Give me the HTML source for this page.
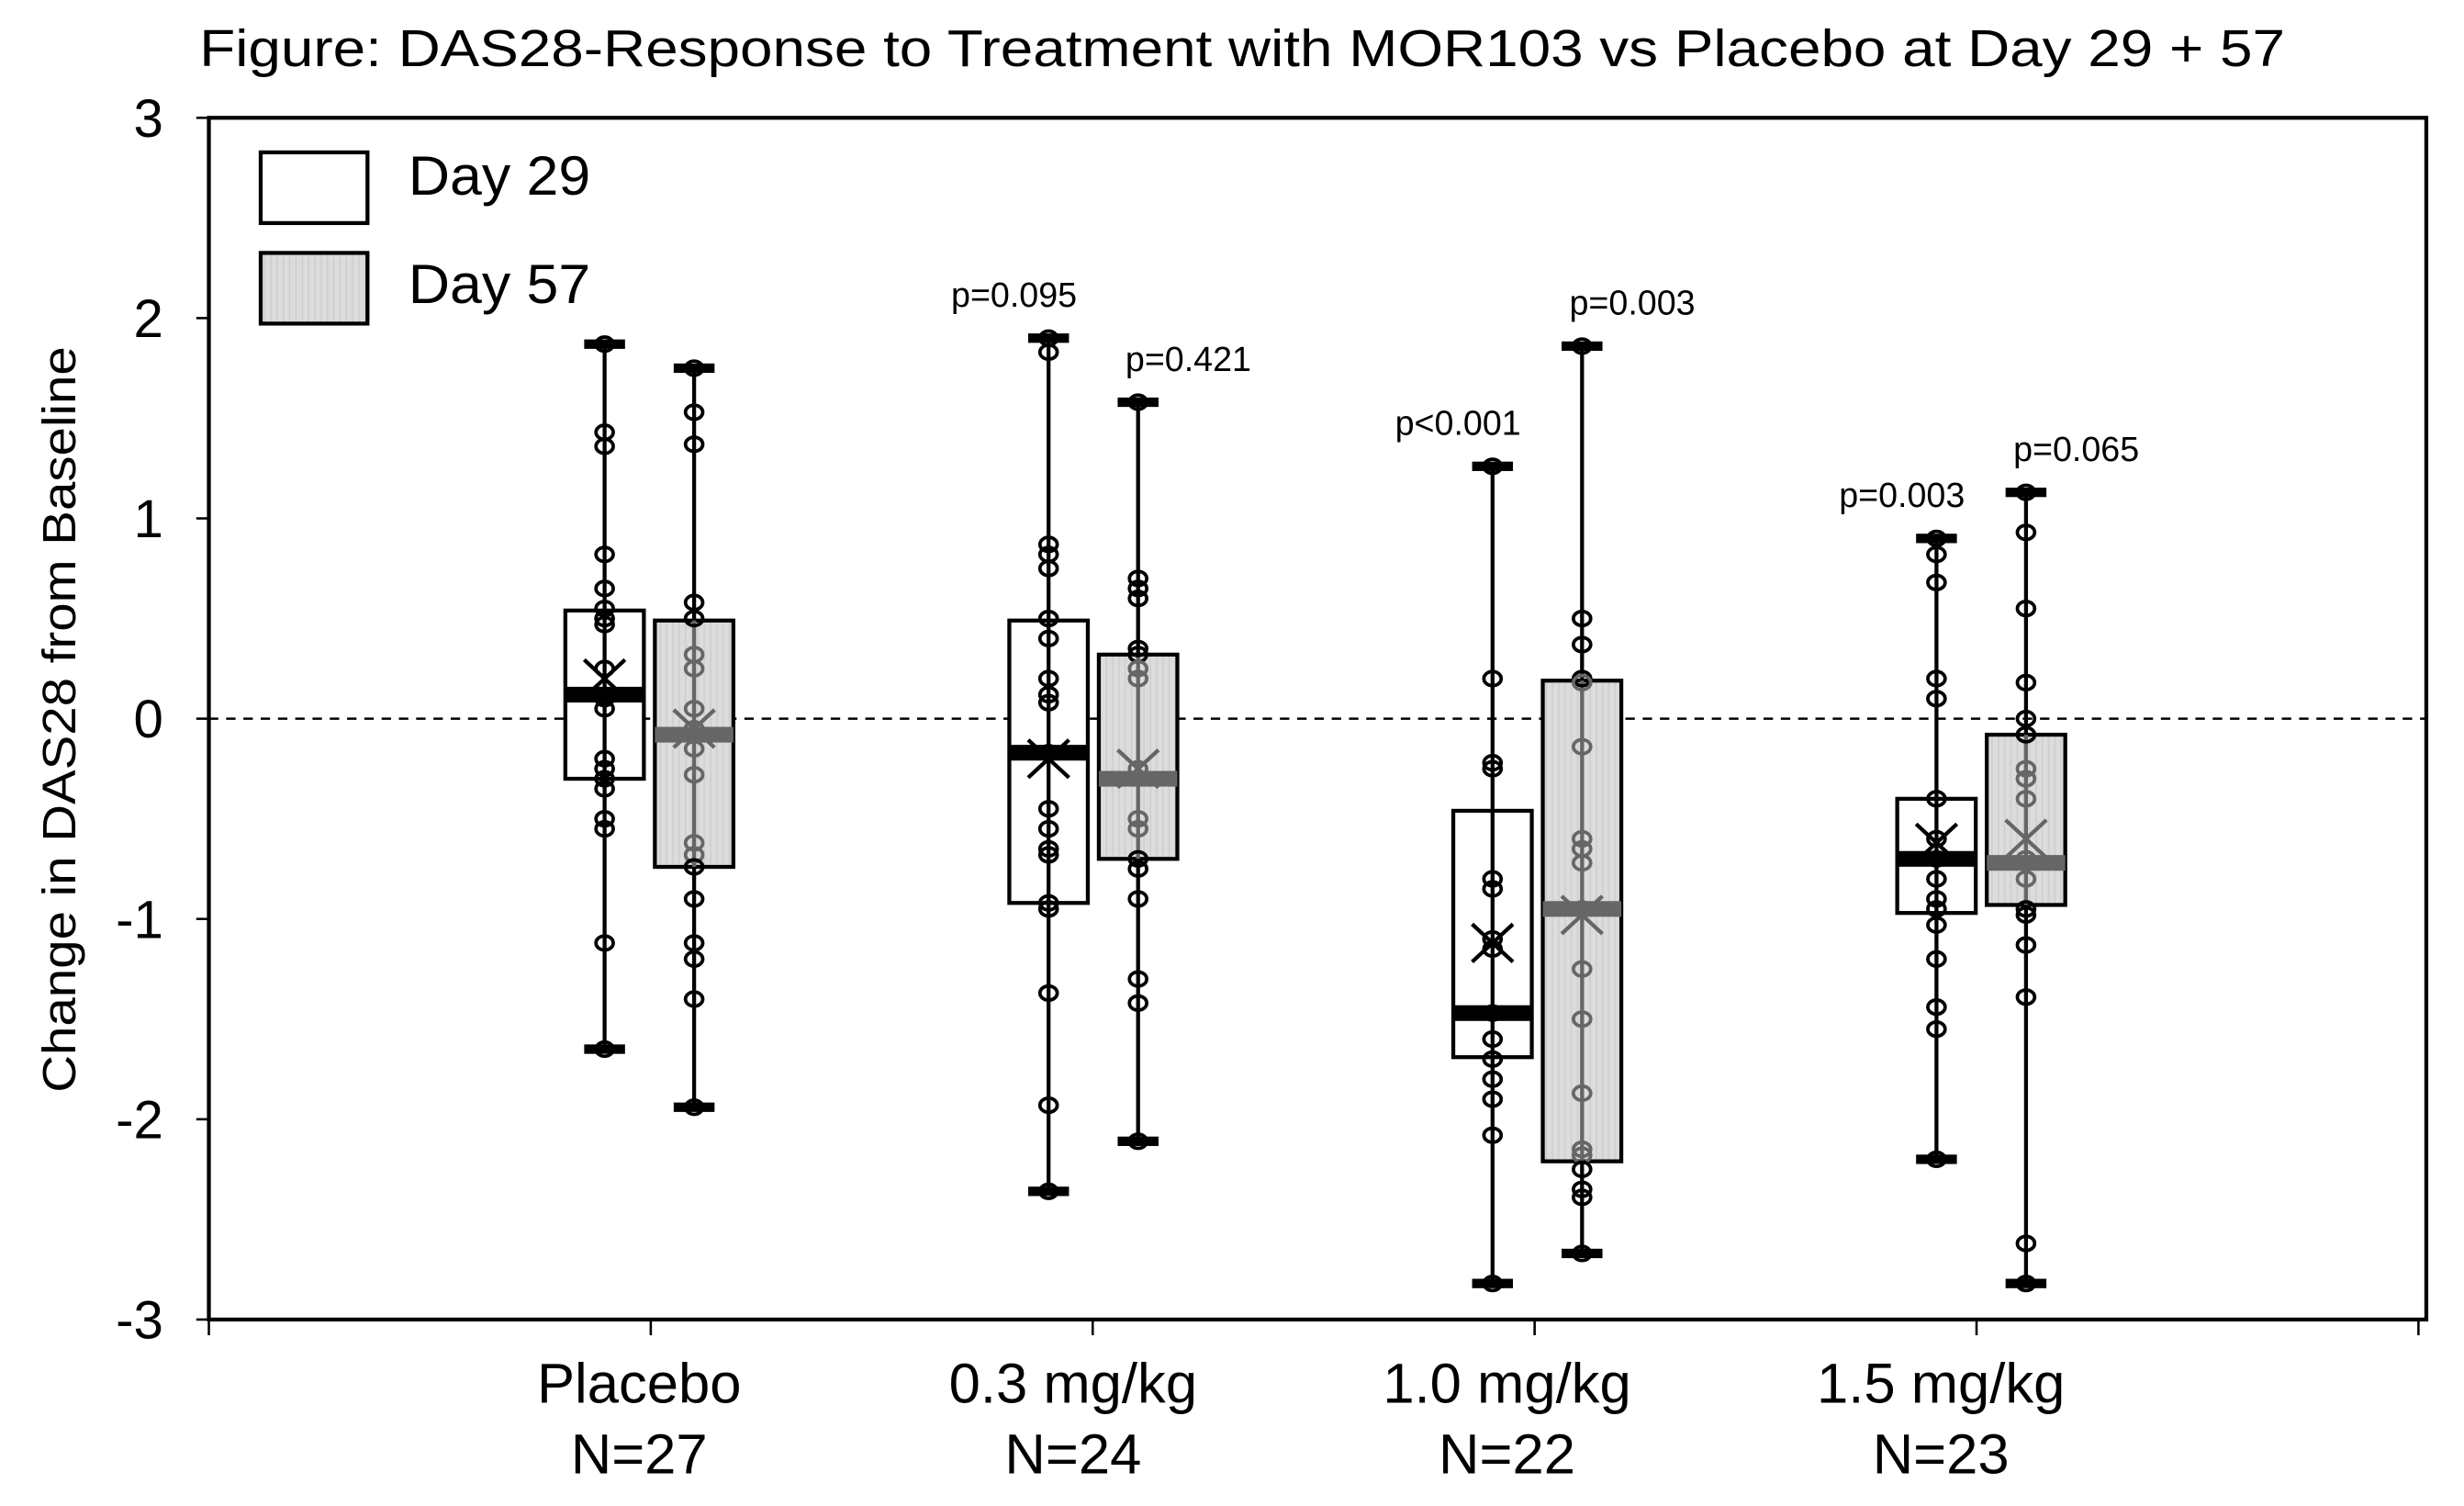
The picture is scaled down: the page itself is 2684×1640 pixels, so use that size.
<!DOCTYPE html>
<html><head><meta charset="utf-8"><style>
html,body{margin:0;padding:0;background:#fff;}
svg{display:block;}
text{font-family:"Liberation Sans",Arial,sans-serif;fill:#000;}
</style></head><body>
<svg id="chart" width="2684" height="1640" viewBox="0 0 1569 958.7" preserveAspectRatio="none" xmlns="http://www.w3.org/2000/svg">
<defs>
<pattern id="dots" width="4" height="4" patternUnits="userSpaceOnUse"><rect width="4" height="4" fill="#dcdcdc"/><rect width="1" height="4" fill="#cfcfcf"/></pattern>
</defs>
<text x="127" y="42" font-size="33" textLength="1328" lengthAdjust="spacingAndGlyphs">Figure: DAS28-Response to Treatment with MOR103 vs Placebo at Day 29 + 57</text>
<text transform="translate(48,458) rotate(-90)" text-anchor="middle" font-size="30" textLength="475" lengthAdjust="spacingAndGlyphs">Change in DAS28 from Baseline</text>
<g id="axes"></g>
<g id="marks"></g>
<g>
<rect x="166" y="97" width="68" height="45" fill="#fff" stroke="#000" stroke-width="2.5"/>
<text x="260" y="124" font-size="35" textLength="116" lengthAdjust="spacingAndGlyphs">Day 29</text>
<rect x="166" y="161" width="68" height="45" fill="url(#dots)" stroke="#000" stroke-width="2.5"/>
<text x="260" y="193" font-size="35" textLength="116" lengthAdjust="spacingAndGlyphs">Day 57</text>
</g>
</svg>
<script>
const categories = ["Placebo","0.3 mg/kg","1.0 mg/kg","1.5 mg/kg"];
const nLabels = ["N=27","N=24","N=22","N=23"];
const yTicks = [3,2,1,0,-1,-2,-3];
const whiskerHi = [[1.87,1.75],[1.90,1.58],[1.26,1.86],[0.90,1.13]];
const whiskerLo = [[-1.65,-1.94],[-2.36,-2.11],[-2.82,-2.67],[-2.20,-2.82]];
const q3 = [[0.54,0.49],[0.49,0.32],[-0.46,0.19],[-0.40,-0.08]];
const q1 = [[-0.30,-0.74],[-0.92,-0.70],[-1.69,-2.21],[-0.97,-0.93]];
const medians = [[0.12,-0.08],[-0.17,-0.30],[-1.47,-0.95],[-0.70,-0.72]];
const means = [[0.20,-0.05],[-0.20,-0.25],[-1.12,-0.98],[-0.62,-0.60]];
const pLabels = [["",""],["p=0.095","p=0.421"],["p<0.001","p=0.003"],["p=0.003","p=0.065"]];
const points = [
 [[1.87,1.43,1.36,0.82,0.65,0.55,0.50,0.47,0.25,0.10,0.05,-0.20,-0.25,-0.30,-0.35,-0.50,-0.55,-1.12,-1.65],
  [1.75,1.53,1.37,0.58,0.50,0.32,0.25,0.05,-0.05,-0.15,-0.28,-0.62,-0.68,-0.74,-0.90,-1.12,-1.20,-1.40,-1.94]],
 [[1.90,1.83,0.87,0.82,0.75,0.50,0.40,0.20,0.12,0.08,-0.17,-0.45,-0.55,-0.65,-0.68,-0.92,-0.95,-1.37,-1.93,-2.36],
  [1.58,0.70,0.65,0.60,0.35,0.32,0.25,0.20,-0.25,-0.50,-0.55,-0.70,-0.75,-0.90,-1.30,-1.42,-2.11]],
 [[1.26,0.20,-0.22,-0.25,-0.80,-0.85,-1.10,-1.15,-1.47,-1.60,-1.70,-1.80,-1.90,-2.08,-2.82],
  [1.86,0.50,0.37,0.20,0.18,-0.14,-0.60,-0.65,-0.72,-0.95,-1.25,-1.50,-1.87,-2.15,-2.18,-2.25,-2.35,-2.39,-2.67]],
 [[0.90,0.82,0.68,0.20,0.10,-0.40,-0.60,-0.70,-0.80,-0.90,-0.95,-1.03,-1.20,-1.44,-1.55,-2.20],
  [1.13,0.93,0.55,0.18,0.00,-0.08,-0.25,-0.30,-0.40,-0.70,-0.80,-0.95,-0.98,-1.13,-1.39,-2.62,-2.82]]
];
const NS="http://www.w3.org/2000/svg";
const L=133,R=1545,T=75,B=840;
function y(v){return T+(3-v)/6*(B-T);}
function xc(i,s){return 385+i*282.7+(s===0?0:57);}
function mk(tag,attrs,parent){const e=document.createElementNS(NS,tag);for(const k in attrs)e.setAttribute(k,attrs[k]);parent.appendChild(e);return e;}
const ax=document.getElementById('axes'), mg=document.getElementById('marks');
let fr=mk('rect',{x:L,y:T,width:R-L,height:B-T,fill:'none',stroke:'#000','stroke-width':2.5},ax);


let zl=mk('line',{x1:L,x2:R,y1:y(0),y2:y(0),stroke:'#000','stroke-width':1.5,'stroke-dasharray':'6,5'},ax);


yTicks.forEach(v=>{
 let t=mk('line',{x1:L-8,x2:L,y1:y(v),y2:y(v),stroke:'#000','stroke-width':1.5},ax);
 
 
 let tx=mk('text',{x:104,y:y(v)+12,'font-size':34,'text-anchor':'end'},ax);
 tx.textContent=v;
 
 
});
for(let i=0;i<=5;i++){
 const x=L+i*281.4;
 let t=mk('line',{x1:x,x2:x,y1:B,y2:B+10,stroke:'#000','stroke-width':1.5},ax);
 
 
}
categories.forEach((c,i)=>{
 const cx=407+i*276.3;
 let t1=mk('text',{x:cx,y:893,'font-size':36,'text-anchor':'middle'},ax);
 t1.textContent=c;
 
 
 let t2=mk('text',{x:cx,y:938,'font-size':36,'text-anchor':'middle'},ax);
 t2.textContent=nLabels[i];
 
 
});
categories.forEach((c,i)=>{
 for(let s=0;s<2;s++){
  const x=xc(i,s), g=mk('g',{},mg), hw=25;
  
  
  mk('line',{x1:x,x2:x,y1:y(whiskerHi[i][s]),y2:y(whiskerLo[i][s]),stroke:'#000','stroke-width':2.5},g);
  mk('rect',{x:x-hw,y:y(q3[i][s]),width:2*hw,height:y(q1[i][s])-y(q3[i][s]),fill:s?'url(#dots)':'#fff',stroke:'#000','stroke-width':2.5},g);
  mk('line',{x1:x,x2:x,y1:y(q3[i][s]),y2:y(q1[i][s]),stroke:s?'#666':'#000','stroke-width':2.5},g);
  [whiskerHi[i][s],whiskerLo[i][s]].forEach(v=>mk('rect',{x:x-13,y:y(v)-3,width:26,height:6,fill:'#000'},g));
  const col=s?'#666':'#000';
  mk('rect',{x:x-hw,y:y(medians[i][s])-5,width:2*hw,height:10,fill:col},g);
  const m=y(means[i][s]);
  mk('path',{d:`M${x-13} ${m-12}L${x+13} ${m+12}M${x+13} ${m-12}L${x-13} ${m+12}`,stroke:col,'stroke-width':2.5,fill:'none'},g);
  points[i][s].forEach(v=>{
   const inside=s&&v<q3[i][s]&&v>q1[i][s];
   let p=mk('ellipse',{cx:x,cy:y(v),rx:5.5,ry:4.5,fill:'none',stroke:inside?'#666':'#000','stroke-width':2.2},g);
   
   
  });
  if(pLabels[i][s]){
   let pt=mk('text',{x:x+(s?32:-22),y:y(whiskerHi[i][s])-20,'font-size':22,'text-anchor':'middle'},g);
   pt.textContent=pLabels[i][s];
   
   
  }
 }
});
</script>
</body></html>
